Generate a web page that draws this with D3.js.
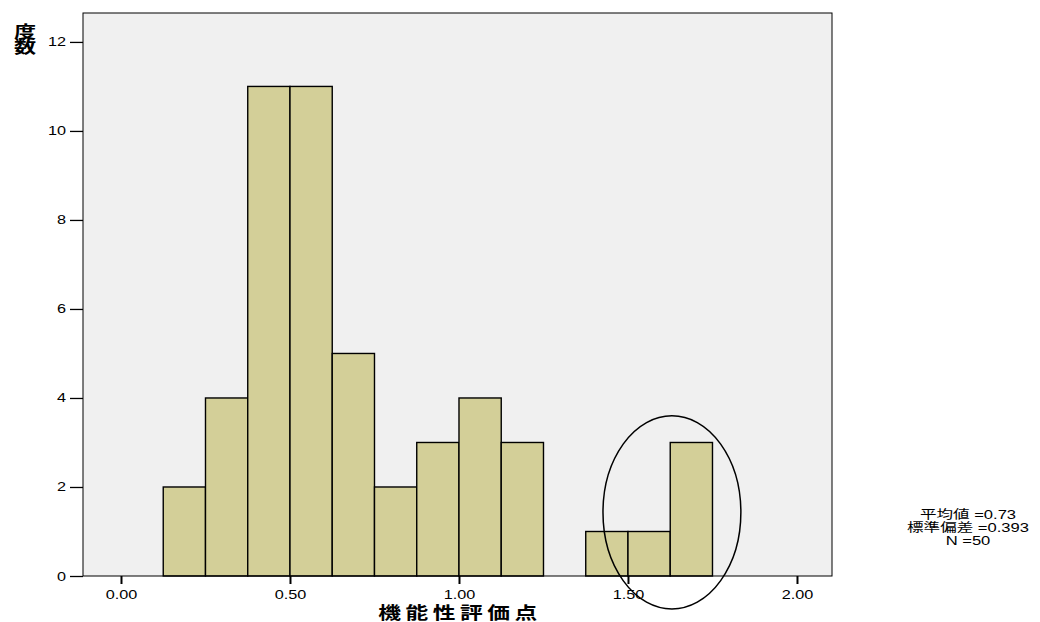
<!DOCTYPE html>
<html>
<head>
<meta charset="utf-8">
<script src="https://cdn.jsdelivr.net/npm/d3@7"></script>
<style>
  body { margin: 0; background: #ffffff; }
  svg { display: block; }
  text { font-family: "Liberation Sans", Arial, "Noto Sans CJK JP", sans-serif; }
  .jp { font-family: "Liberation Sans", "Noto Sans CJK JP", sans-serif; }
  .vertical { font-family: "Noto Sans CJK JP", sans-serif; writing-mode: vertical-rl; text-orientation: upright; }
</style>
</head>
<body>
<svg id="chart" width="1040" height="622"></svg>
<script>
// Histogram bins (lower edge) and frequencies
const binStarts = [0.125, 0.25, 0.375, 0.5, 0.625, 0.75, 0.875, 1.0, 1.125, 1.25, 1.375, 1.5, 1.625];
const binWidth = 0.125;
const counts = [2, 4, 11, 11, 5, 2, 3, 4, 3, 0, 1, 1, 3];

const xTicks = [0, 0.5, 1.0, 1.5, 2.0];
const yTicks = [0, 2, 4, 6, 8, 10, 12];

const statLines = ["平均値 =0.73", "標準偏差 =0.393", "N =50"];
const xTitle = "機能性評価点";
const yTitle = "度数";

// Highlighted region (ellipse centre and radii in data units)
const ellipseCenter = [1.63, 1.43];
const ellipseRadii = [0.204, 2.17];

// Horizontal stretch applied to all text
const SX = 1.3;

const svg = d3.select("#chart");
const plot = { left: 83, right: 832, top: 13, bottom: 576 };

const x = d3.scaleLinear().domain([-0.1124, 2.1036]).range([plot.left, plot.right]);
const y = d3.scaleLinear().domain([0, 12.65]).range([plot.bottom, plot.top]);

// Plot background
svg.append("rect")
  .attr("x", plot.left).attr("y", plot.top)
  .attr("width", plot.right - plot.left).attr("height", plot.bottom - plot.top)
  .attr("fill", "#f0f0f0");

// Bars
const data = binStarts.map((s, i) => ({ s, c: counts[i] })).filter(d => d.c > 0);
svg.append("g").selectAll("rect").data(data).join("rect")
  .attr("x", d => x(d.s))
  .attr("y", d => y(d.c))
  .attr("width", d => x(d.s + binWidth) - x(d.s))
  .attr("height", d => y(0) - y(d.c))
  .attr("fill", "#d3cf98")
  .attr("stroke", "#000")
  .attr("stroke-width", 1.4);

// Plot frame
svg.append("rect")
  .attr("x", plot.left).attr("y", plot.top)
  .attr("width", plot.right - plot.left).attr("height", plot.bottom - plot.top)
  .attr("fill", "none").attr("stroke", "#000").attr("stroke-width", 1);

// Y axis
const yTickSize = 13, yPad = 4;
const yAxis = d3.axisLeft(y).tickValues(yTicks).tickSize(yTickSize).tickPadding(yPad).tickFormat(d3.format("d"));
const gy = svg.append("g").attr("transform", `translate(${plot.left},0)`).call(yAxis);
gy.select(".domain").remove();
gy.selectAll(".tick line").attr("stroke", "#000").attr("stroke-width", 1.3);
gy.selectAll(".tick text")
  .attr("font-size", 12.5).attr("fill", "#000")
  .attr("x", 0)
  .attr("transform", `translate(${-(yTickSize + yPad)},0) scale(${SX},1)`);

// X axis
const xAxis = d3.axisBottom(x).tickValues(xTicks).tickSize(8).tickPadding(6).tickFormat(d3.format(".2f"));
const gx = svg.append("g").attr("transform", `translate(0,${plot.bottom})`).call(xAxis);
gx.select(".domain").remove();
gx.selectAll(".tick line").attr("stroke", "#000").attr("stroke-width", 2);
gx.selectAll(".tick text")
  .attr("font-size", 12.5).attr("fill", "#000")
  .attr("transform", `scale(${SX},1)`);

// Ellipse around the upper bins
svg.append("ellipse")
  .attr("cx", x(ellipseCenter[0]))
  .attr("cy", y(ellipseCenter[1]))
  .attr("rx", x(ellipseRadii[0]) - x(0))
  .attr("ry", y(0) - y(ellipseRadii[1]))
  .attr("fill", "none").attr("stroke", "#000").attr("stroke-width", 1.5);

// X axis title
svg.append("text").attr("class", "jp")
  .attr("transform", `translate(${(x(0) + x(2)) / 2 + 1},619) scale(${SX},1)`)
  .attr("text-anchor", "middle")
  .attr("font-size", 17.5).attr("font-weight", "bold")
  .attr("letter-spacing", 3.5)
  .text(xTitle);

// Y axis title, written vertically
svg.append("text").attr("class", "vertical")
  .attr("transform", `translate(25,23) scale(${SX},1)`)
  .attr("x", 0).attr("y", 0)
  .attr("font-size", 17).attr("font-weight", "bold")
  .attr("letter-spacing", -1.5)
  .text(yTitle);

// Summary statistics
const st = svg.append("text").attr("class", "jp")
  .attr("transform", `translate(968,519) scale(1.38,1)`)
  .attr("text-anchor", "middle")
  .attr("font-size", 12);
st.selectAll("tspan").data(statLines).join("tspan")
  .attr("x", 0).attr("dy", (d, i) => i === 0 ? 0 : 13)
  .text(d => d);
</script>
</body>
</html>
